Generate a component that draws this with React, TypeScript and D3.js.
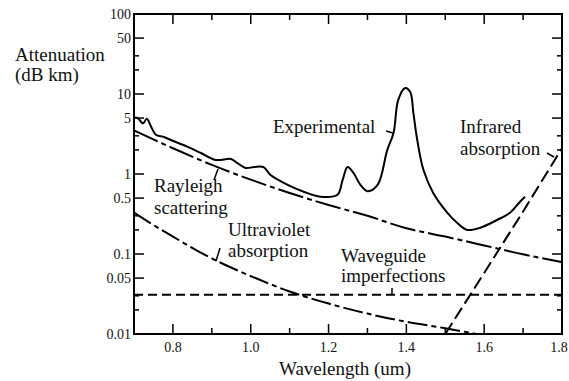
import React, { useEffect, useRef } from "react";
import * as d3 from "d3";

// wavelength (um), attenuation (dB/km)
const experimentalWl = [0.703, 0.71, 0.723, 0.733, 0.744, 0.756, 0.777, 0.795, 0.838, 0.872, 0.91, 0.949, 0.962, 0.987, 1.008, 1.033, 1.051, 1.095, 1.136, 1.179, 1.223, 1.236, 1.249, 1.264, 1.282, 1.3, 1.326, 1.351, 1.367, 1.379, 1.397, 1.41, 1.418, 1.428, 1.444, 1.469, 1.505, 1.531, 1.556, 1.59, 1.633, 1.667, 1.692, 1.705];
const experimentalDb = [5.1, 5.0, 4.3, 4.9, 3.9, 3.1, 2.9, 2.66, 2.18, 1.83, 1.5, 1.54, 1.41, 1.19, 1.22, 1.22, 0.97, 0.73, 0.6, 0.52, 0.55, 0.84, 1.22, 1.03, 0.73, 0.61, 0.73, 2.0, 3.25, 8.4, 11.9, 10.6, 5.8, 2.66, 1.12, 0.58, 0.33, 0.244, 0.2, 0.213, 0.266, 0.33, 0.45, 0.52];

const rayleighWl = [0.7, 0.8, 0.9, 1.0, 1.1, 1.2, 1.3, 1.4, 1.5, 1.6, 1.7, 1.8];
const rayleighDb = [3.5, 2.1, 1.3, 0.85, 0.58, 0.41, 0.3, 0.21, 0.165, 0.128, 0.099, 0.079];

const uvWl = [0.7, 0.75, 0.8, 0.9, 1.0, 1.1, 1.2, 1.3, 1.4, 1.5, 1.58];
const uvDb = [0.33, 0.23, 0.165, 0.088, 0.053, 0.034, 0.024, 0.018, 0.0142, 0.0118, 0.01];

const waveguideWl = [0.7, 1.8];
const waveguideDb = [0.031, 0.031];

const infraredWl = [1.5, 1.6, 1.7, 1.8];
const infraredDb = [0.01, 0.058, 0.34, 2.1];

const xTicks = [0.8, 1.0, 1.2, 1.4, 1.6, 1.8];
const xMinorTicks = [0.9, 1.1, 1.3, 1.5, 1.7];
const yTicks = [100, 50, 10, 5, 1, 0.5, 0.1, 0.05, 0.01];
const yTickLabels = ["100", "50", "10", "5", "1", "0.5", "0.1", "0.05", "0.01"];
const yMinorTicks = [30, 20, 3, 2, 0.3, 0.2, 0.03, 0.02];

const W = 569;
const H = 381;
const font = '"Liberation Serif", "DejaVu Serif", "Times New Roman", serif';

const App: React.FC = () => {
  const ref = useRef<SVGSVGElement>(null);

  useEffect(() => {
    if (!ref.current) return;
    const svg = d3.select(ref.current);
    svg.selectAll("*").remove();

    const x = d3.scaleLinear().domain([0.7, 1.8]).range([134, 562]);
    const y = d3.scaleLog().domain([0.01, 100]).range([334, 14]);

    svg
      .append("defs")
      .append("clipPath")
      .attr("id", "plot")
      .append("rect")
      .attr("x", 134)
      .attr("y", 14)
      .attr("width", 428)
      .attr("height", 320);

    const line = d3
      .line<[number, number]>()
      .x((d) => x(d[0]))
      .y((d) => y(d[1]));

    const series = [
      { wl: rayleighWl, db: rayleighDb, dash: "26,4,5,4", curve: d3.curveMonotoneX },
      { wl: uvWl, db: uvDb, dash: "20,4,5,4", curve: d3.curveMonotoneX },
      { wl: waveguideWl, db: waveguideDb, dash: "9,5", curve: d3.curveLinear },
      { wl: infraredWl, db: infraredDb, dash: "13,5", curve: d3.curveLinear },
      { wl: experimentalWl, db: experimentalDb, dash: null, curve: d3.curveCatmullRom },
    ];

    const plot = svg.append("g").attr("clip-path", "url(#plot)");
    series.forEach((s) => {
      const pts = s.wl.map((w, i) => [w, s.db[i]] as [number, number]);
      plot
        .append("path")
        .attr("d", line.curve(s.curve)(pts))
        .attr("fill", "none")
        .attr("stroke", "#000")
        .attr("stroke-width", 2)
        .attr("stroke-dasharray", s.dash);
    });

    // frame
    svg
      .append("rect")
      .attr("x", 134)
      .attr("y", 14)
      .attr("width", 428)
      .attr("height", 320)
      .attr("fill", "none")
      .attr("stroke", "#000")
      .attr("stroke-width", 2);

    const ticks = svg.append("g").attr("stroke", "#000").attr("stroke-width", 1.5);
    const xt = [
      ...xTicks.map((v) => ({ v, len: 10 })),
      ...xMinorTicks.map((v) => ({ v, len: 6 })),
    ];
    xt.forEach(({ v, len }) => {
      ticks.append("line").attr("x1", x(v)).attr("x2", x(v)).attr("y1", 334).attr("y2", 334 - len);
      ticks.append("line").attr("x1", x(v)).attr("x2", x(v)).attr("y1", 14).attr("y2", 14 + len);
    });
    const yt = [
      ...yTicks.map((v) => ({ v, len: 10 })),
      ...yMinorTicks.map((v) => ({ v, len: 5 })),
    ];
    yt.forEach(({ v, len }) => {
      ticks.append("line").attr("x1", 134).attr("x2", 134 + len).attr("y1", y(v)).attr("y2", y(v));
      ticks.append("line").attr("x1", 562).attr("x2", 562 - len).attr("y1", y(v)).attr("y2", y(v));
    });

    const text = svg.append("g").style("font-family", font).attr("fill", "#111");

    yTicks.forEach((v, i) => {
      text
        .append("text")
        .attr("x", 131)
        .attr("y", y(v) + 5)
        .attr("text-anchor", "end")
        .attr("font-size", 14)
        .text(yTickLabels[i]);
    });
    xTicks.forEach((v) => {
      text
        .append("text")
        .attr("x", Math.min(x(v), 559))
        .attr("y", 352)
        .attr("text-anchor", "middle")
        .attr("font-size", 14)
        .text(d3.format(".1f")(v));
    });

    const labels: [string, number, number, string?][] = [
      ["Attenuation", 15, 61],
      ["(dB km)", 15, 81],
      ["Wavelength (um)", 345, 375, "middle"],
      ["Experimental", 273, 133],
      ["Infrared", 460, 133],
      ["absorption", 460, 155],
      ["Rayleigh", 154, 192],
      ["scattering", 154, 214],
      ["Ultraviolet", 228, 236],
      ["absorption", 228, 257],
      ["Waveguide", 341, 262],
      ["imperfections", 341, 282],
    ];
    labels.forEach(([t, lx, ly, anchor]) => {
      text
        .append("text")
        .attr("x", lx)
        .attr("y", ly)
        .attr("text-anchor", anchor || "start")
        .attr("font-size", 19)
        .text(t);
    });

    // little leader marks from labels to curves
    const leaders: [number, number, number, number][] = [
      [386, 131, 393, 133],
      [547, 153, 554, 157],
      [214, 180, 218, 169],
      [220, 248, 216, 261],
      [392, 288, 392, 294],
    ];
    const lg = svg.append("g").attr("stroke", "#000").attr("stroke-width", 1.5);
    leaders.forEach(([x1, y1, x2, y2]) => {
      lg.append("line").attr("x1", x1).attr("y1", y1).attr("x2", x2).attr("y2", y2);
    });
  }, []);

  return (
    <svg
      ref={ref}
      width={W}
      height={H}
      style={{ position: "absolute", left: 0, top: 0, background: "#fff" }}
    />
  );
};

export default App;
